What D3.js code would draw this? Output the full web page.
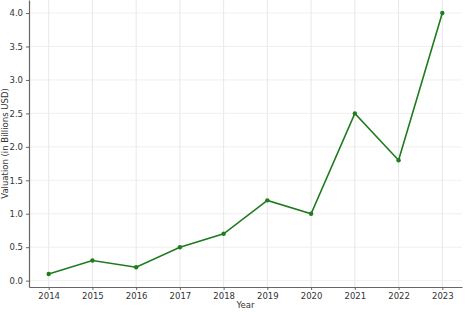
<!DOCTYPE html>
<html>
<head>
<meta charset="utf-8">
<script src="https://cdn.jsdelivr.net/npm/d3@7"></script>
<style>
  body { margin: 0; background: #fff; }
  svg text { font-family: "DejaVu Sans", sans-serif; }
</style>
</head>
<body>
<div id="chart"></div>
<script>
var years = [2014, 2015, 2016, 2017, 2018, 2019, 2020, 2021, 2022, 2023];
var valuations = [0.1, 0.3, 0.2, 0.5, 0.7, 1.2, 1.0, 2.5, 1.8, 4.0];
var yTicks = [0.0, 0.5, 1.0, 1.5, 2.0, 2.5, 3.0, 3.5, 4.0];

var margin = { top: 0, right: 5, bottom: 25, left: 29 },
    width = 467 - margin.left - margin.right,
    height = 312 - margin.top - margin.bottom;

var svg = d3.select("#chart")
    .append("svg")
    .attr("width", width + margin.left + margin.right)
    .attr("height", height + margin.top + margin.bottom)
    .append("g")
    .attr("transform", "translate(" + margin.left + "," + margin.top + ")");

// matplotlib-style 5% padding
var x = d3.scaleLinear()
    .domain([2014 - 0.45, 2023 + 0.45])
    .range([0, width]);
var y = d3.scaleLinear()
    .domain([0.1 - 0.195, 4.0 + 0.195])
    .range([height, 0]);

// grid
svg.append("g")
    .selectAll("line")
    .data(years)
    .enter()
    .append("line")
    .attr("x1", function (d) { return x(d); })
    .attr("x2", function (d) { return x(d); })
    .attr("y1", 0)
    .attr("y2", height)
    .attr("stroke", "#e2e2e2")
    .attr("stroke-width", 0.8);

svg.append("g")
    .selectAll("line")
    .data(yTicks)
    .enter()
    .append("line")
    .attr("x1", 0)
    .attr("x2", width)
    .attr("y1", function (d) { return y(d); })
    .attr("y2", function (d) { return y(d); })
    .attr("stroke", "#ececec")
    .attr("stroke-width", 0.8);

// axes
var xAxis = svg.append("g")
    .attr("transform", "translate(0," + height + ")")
    .call(d3.axisBottom(x).tickValues(years).tickFormat(d3.format("d")).tickSize(3).tickSizeOuter(0));
var yAxis = svg.append("g")
    .call(d3.axisLeft(y).tickValues(yTicks).tickFormat(d3.format(".1f")).tickSize(3).tickSizeOuter(0));

[xAxis, yAxis].forEach(function (a) {
    a.selectAll("path").attr("stroke", "#666").attr("stroke-width", 1.2);
    a.selectAll("line").attr("stroke", "#666");
    a.selectAll("text").attr("fill", "#333").style("font-size", "8.5px");
});

// line
svg.append("path")
    .datum(valuations)
    .attr("d", d3.line()
        .x(function (d, i) { return x(years[i]); })
        .y(function (d) { return y(d); }))
    .attr("stroke", "#1f7a1f")
    .style("stroke-width", 1.6)
    .style("fill", "none");

svg.append("g")
    .selectAll("circle")
    .data(valuations)
    .enter()
    .append("circle")
    .attr("cx", function (d, i) { return x(years[i]); })
    .attr("cy", function (d) { return y(d); })
    .attr("r", 2.2)
    .attr("fill", "#1e7d1e");

// labels
svg.append("text")
    .attr("x", width / 2)
    .attr("y", height + 21)
    .attr("text-anchor", "middle")
    .attr("fill", "#333")
    .style("font-size", "8.5px")
    .text("Year");

svg.append("text")
    .attr("transform", "translate(" + (-21) + "," + (height / 2) + ") rotate(-90)")
    .attr("text-anchor", "middle")
    .attr("fill", "#333")
    .style("font-size", "8.5px")
    .text("Valuation (in Billions USD)");
</script>
</body>
</html>
